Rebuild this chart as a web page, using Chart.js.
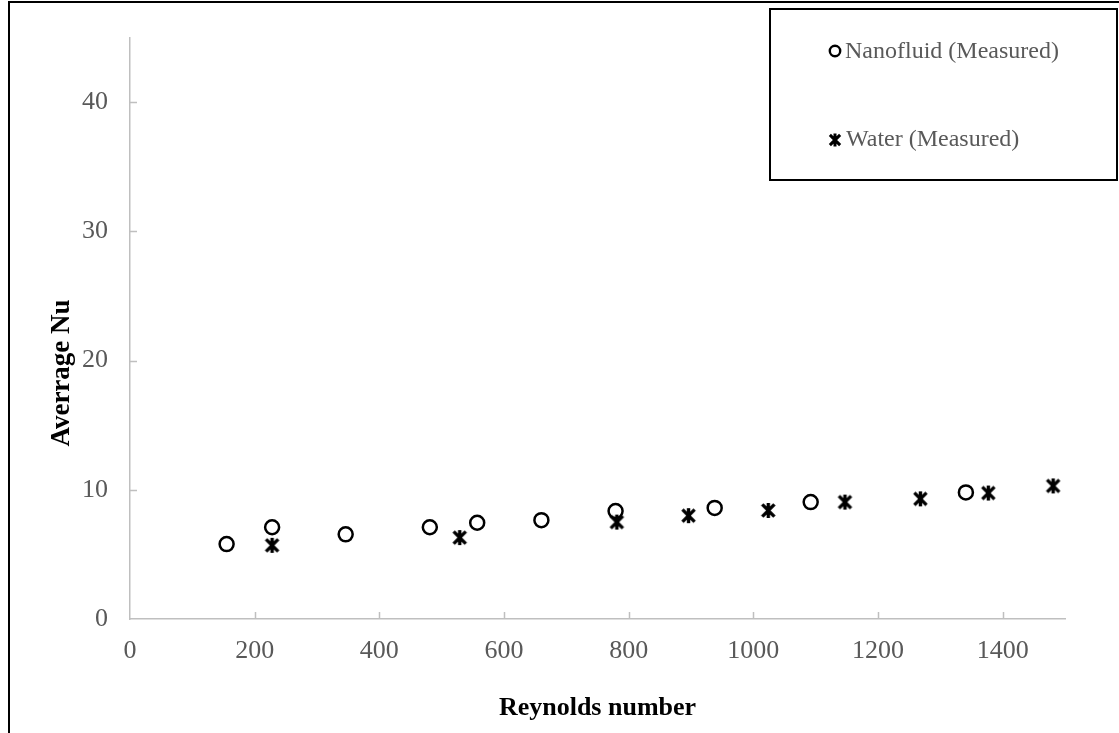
<!DOCTYPE html>
<html>
<head>
<meta charset="utf-8">
<script src="https://cdn.jsdelivr.net/npm/chart.js@4"></script>
<style>
  html, body { margin: 0; padding: 0; background: #fff; }
  #wrap { position: relative; width: 1119px; height: 733px; }
</style>
</head>
<body>
<div id="wrap"><canvas id="myChart" width="1119" height="733"></canvas></div>
<script>
// data
const nanoRe = [155, 228, 346, 481, 557, 660, 779, 938, 1092, 1341];
const nanoNu = [5.8, 7.1, 6.55, 7.1, 7.45, 7.65, 8.35, 8.6, 9.05, 9.8];
const waterRe = [228, 529, 781, 896, 1024, 1147, 1268, 1377, 1481];
const waterNu = [5.7, 6.3, 7.5, 8.0, 8.4, 9.05, 9.3, 9.75, 10.3];
const xTicks = [0, 200, 400, 600, 800, 1000, 1200, 1400];
const yTicks = [0, 10, 20, 30, 40];
const seriesNames = ['Nanofluid (Measured)', 'Water (Measured)'];
const yTitle = 'Averrage Nu';

const serif = "'Liberation Serif', 'Times New Roman', serif";
const grey = '#595959';
const axisGrey = '#bfbfbf';

// asterisk marker (X plus vertical bar)
function makeStar(size, lw) {
    const c = document.createElement('canvas');
    c.width = size; c.height = size;
    const g = c.getContext('2d');
    const m = size / 2, a = size * 0.4, d = size * 0.32;
    g.strokeStyle = '#000';
    g.lineWidth = lw;
    g.beginPath();
    g.moveTo(m, m - a); g.lineTo(m, m + a);
    g.moveTo(m - d, m - d); g.lineTo(m + d, m + d);
    g.moveTo(m + d, m - d); g.lineTo(m - d, m + d);
    g.stroke();
    return c;
}
const starBig = makeStar(19, 3.4);
const starSmall = makeStar(16, 3);

const toPoints = (xs, ys) => xs.map((x, i) => ({x: x, y: ys[i]}));

// inward tick marks, y title, frame and boxed legend
const decorations = {
    id: 'decorations',
    afterDatasetsDraw(chart) {
        const ctx = chart.ctx;
        const xs = chart.scales.x, ys = chart.scales.y;
        ctx.save();
        ctx.strokeStyle = axisGrey;
        ctx.lineWidth = 1.5;
        ctx.beginPath();
        yTicks.forEach(v => {
            if (v === 0) return;
            const p = Math.round(ys.getPixelForValue(v)) + 0.5;
            ctx.moveTo(xs.left, p); ctx.lineTo(xs.left + 7, p);
        });
        xTicks.forEach(v => {
            if (v === 0) return;
            const p = Math.round(xs.getPixelForValue(v)) + 0.5;
            ctx.moveTo(p, ys.bottom); ctx.lineTo(p, ys.bottom - 7);
        });
        ctx.stroke();

        // y axis title
        ctx.save();
        ctx.translate(62, 373);
        ctx.rotate(-Math.PI / 2);
        ctx.font = 'bold 27px ' + serif;
        ctx.fillStyle = '#000';
        ctx.textAlign = 'center';
        ctx.textBaseline = 'middle';
        ctx.fillText(yTitle, 0, 0);
        ctx.restore();

        // outer frame
        ctx.strokeStyle = '#000';
        ctx.lineWidth = 2;
        ctx.beginPath();
        ctx.moveTo(9, 733); ctx.lineTo(9, 2); ctx.lineTo(1119, 2);
        ctx.stroke();

        // legend box
        ctx.fillStyle = '#fff';
        ctx.fillRect(770, 9, 347, 171);
        ctx.strokeRect(770, 9, 347, 171);

        ctx.font = '24px ' + serif;
        ctx.fillStyle = grey;
        ctx.textBaseline = 'middle';
        ctx.fillText(seriesNames[0], 845, 52);
        ctx.fillText(seriesNames[1], 846, 140);

        ctx.strokeStyle = '#000';
        ctx.lineWidth = 2.4;
        ctx.beginPath();
        ctx.arc(835, 51, 5.2, 0, Math.PI * 2);
        ctx.stroke();
        ctx.drawImage(starSmall, 835 - 8, 140 - 8);
        ctx.restore();
    }
};

new Chart(document.getElementById('myChart').getContext('2d'), {
    type: 'scatter',
    plugins: [decorations],
    data: {
        datasets: [{
            label: seriesNames[0],
            data: toPoints(nanoRe, nanoNu),
            pointStyle: 'circle',
            pointRadius: 7,
            pointBorderWidth: 2.5,
            borderColor: '#000',
            backgroundColor: 'rgba(0,0,0,0)'
        }, {
            label: seriesNames[1],
            data: toPoints(waterRe, waterNu),
            pointStyle: starBig,
            pointRadius: 8,
            borderColor: '#000',
            backgroundColor: '#000'
        }]
    },
    options: {
        responsive: false,
        animation: false,
        layout: {
            padding: {left: 0, top: 36, right: 54, bottom: 0}
        },
        scales: {
            x: {
                type: 'linear',
                min: 0,
                max: 1500,
                afterBuildTicks: (scale) => {
                    scale.ticks = xTicks.map(v => ({value: v}));
                },
                afterFit: (scale) => { scale.height = 114; },
                grid: {display: false, drawTicks: false},
                border: {display: true, color: axisGrey, width: 1.5},
                ticks: {
                    color: grey,
                    padding: 17,
                    maxRotation: 0,
                    callback: (v) => String(v),
                    font: {family: serif, size: 26}
                },
                title: {
                    display: true,
                    text: 'Reynolds number',
                    color: '#000',
                    padding: {top: 0, bottom: 9},
                    font: {family: serif, size: 26, weight: 'bold'}
                }
            },
            y: {
                min: 0,
                max: 45,
                afterBuildTicks: (scale) => {
                    scale.ticks = yTicks.map(v => ({value: v}));
                },
                afterFit: (scale) => { scale.width = 130; },
                grid: {display: false, drawTicks: false},
                border: {display: true, color: axisGrey, width: 1.5},
                ticks: {
                    color: grey,
                    padding: 22,
                    callback: (v) => String(v),
                    font: {family: serif, size: 26}
                },
                title: {display: false}
            }
        },
        plugins: {
            legend: {display: false},
            tooltip: {enabled: false}
        }
    }
});
</script>
</body>
</html>
